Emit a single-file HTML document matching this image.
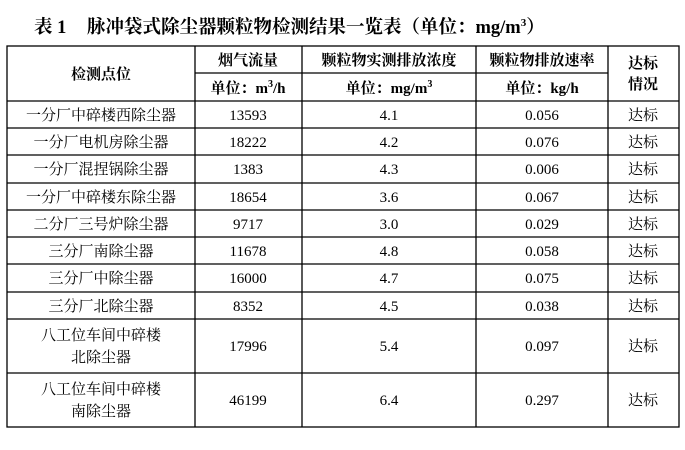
<!DOCTYPE html>
<html><head><meta charset="utf-8"><style>
body{margin:0;background:#fff;width:685px;height:445px;overflow:hidden}
svg text{font-family:"Liberation Serif","Noto Serif CJK SC","Noto Sans CJK SC",serif;fill:#000}
.b{font-weight:bold}
.s{font-family:"Liberation Serif","Noto Sans CJK SC",sans-serif;font-size:15px}
</style></head><body>
<svg width="685" height="445" xmlns="http://www.w3.org/2000/svg">
<text x="34" y="33" class="b" font-size="18.5">表 1</text>
<text x="87" y="33" class="b" font-size="18.5">脉冲袋式除尘器颗粒物检测结果一览表（单位：mg/m<tspan font-size="11" dy="-7">3</tspan><tspan dy="7">）</tspan></text>
<g stroke="#000" stroke-width="1.3" fill="none">
<rect x="7" y="46" width="672" height="381"/>
<line x1="195" y1="73" x2="608" y2="73"/>
<line x1="7" y1="101" x2="679" y2="101"/>
<line x1="7" y1="128" x2="679" y2="128"/>
<line x1="7" y1="155" x2="679" y2="155"/>
<line x1="7" y1="183" x2="679" y2="183"/>
<line x1="7" y1="210" x2="679" y2="210"/>
<line x1="7" y1="237" x2="679" y2="237"/>
<line x1="7" y1="264" x2="679" y2="264"/>
<line x1="7" y1="292" x2="679" y2="292"/>
<line x1="7" y1="319" x2="679" y2="319"/>
<line x1="7" y1="373" x2="679" y2="373"/>
<line x1="195" y1="46" x2="195" y2="427"/>
<line x1="302" y1="46" x2="302" y2="427"/>
<line x1="476" y1="46" x2="476" y2="427"/>
<line x1="608" y1="46" x2="608" y2="427"/>
</g>
<g text-anchor="middle" class="b" font-size="15">
<text x="101" y="79">检测点位</text>
<text x="248" y="65">烟气流量</text>
<text x="389" y="65">颗粒物实测排放浓度</text>
<text x="542" y="65">颗粒物排放速率</text>
<text x="643" y="68">达标</text>
<text x="643" y="89">情况</text>
<text x="248" y="93">单位：m<tspan font-size="10" dy="-6">3</tspan><tspan dy="6">/h</tspan></text>
<text x="389" y="93">单位：mg/m<tspan font-size="10" dy="-6">3</tspan></text>
<text x="542" y="93">单位：kg/h</text>
</g>
<g text-anchor="middle" class="s">
<text x="101" y="120">一分厂中碎楼西除尘器</text><text x="248" y="120">13593</text><text x="389" y="120">4.1</text><text x="542" y="120">0.056</text><text x="643" y="120">达标</text>
<text x="101" y="147">一分厂电机房除尘器</text><text x="248" y="147">18222</text><text x="389" y="147">4.2</text><text x="542" y="147">0.076</text><text x="643" y="147">达标</text>
<text x="101" y="174">一分厂混捏锅除尘器</text><text x="248" y="174">1383</text><text x="389" y="174">4.3</text><text x="542" y="174">0.006</text><text x="643" y="174">达标</text>
<text x="101" y="202">一分厂中碎楼东除尘器</text><text x="248" y="202">18654</text><text x="389" y="202">3.6</text><text x="542" y="202">0.067</text><text x="643" y="202">达标</text>
<text x="101" y="229">二分厂三号炉除尘器</text><text x="248" y="229">9717</text><text x="389" y="229">3.0</text><text x="542" y="229">0.029</text><text x="643" y="229">达标</text>
<text x="101" y="256">三分厂南除尘器</text><text x="248" y="256">11678</text><text x="389" y="256">4.8</text><text x="542" y="256">0.058</text><text x="643" y="256">达标</text>
<text x="101" y="283">三分厂中除尘器</text><text x="248" y="283">16000</text><text x="389" y="283">4.7</text><text x="542" y="283">0.075</text><text x="643" y="283">达标</text>
<text x="101" y="311">三分厂北除尘器</text><text x="248" y="311">8352</text><text x="389" y="311">4.5</text><text x="542" y="311">0.038</text><text x="643" y="311">达标</text>
<text x="101" y="340">八工位车间中碎楼</text><text x="101" y="362">北除尘器</text><text x="248" y="351">17996</text><text x="389" y="351">5.4</text><text x="542" y="351">0.097</text><text x="643" y="351">达标</text>
<text x="101" y="394">八工位车间中碎楼</text><text x="101" y="416">南除尘器</text><text x="248" y="405">46199</text><text x="389" y="405">6.4</text><text x="542" y="405">0.297</text><text x="643" y="405">达标</text>
</g>
</svg>
</body></html>
